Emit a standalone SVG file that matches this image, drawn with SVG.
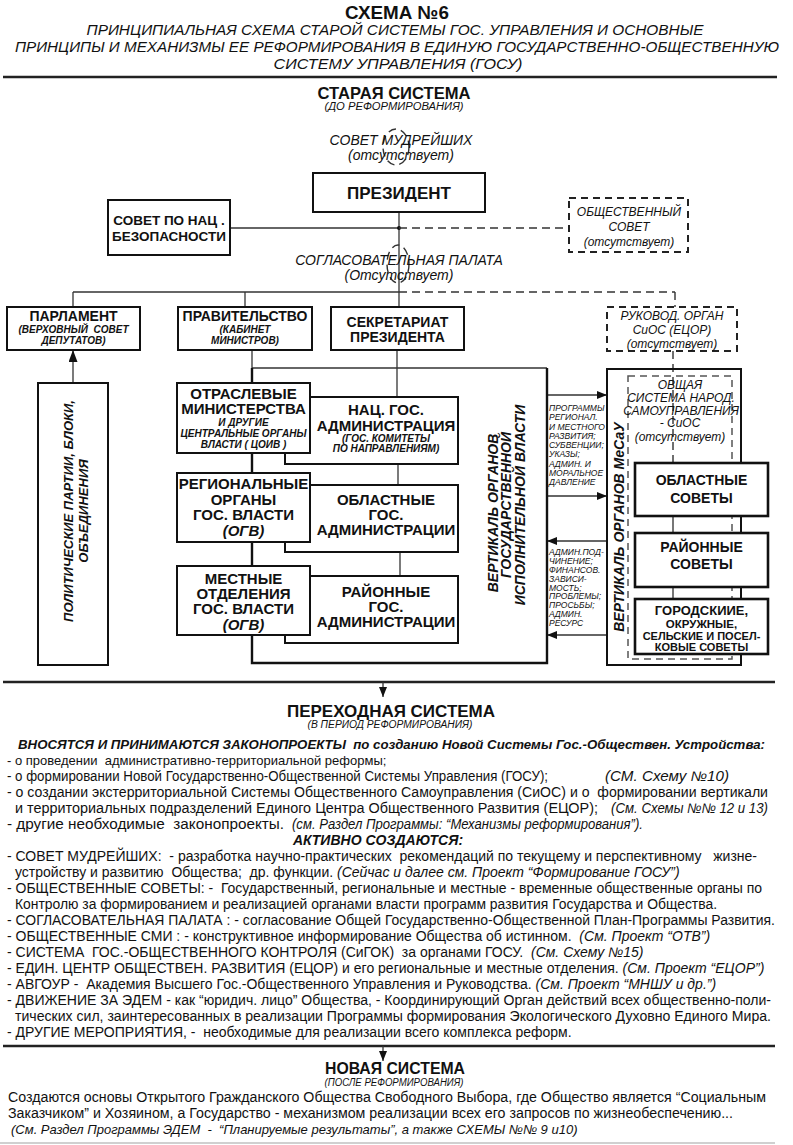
<svg xmlns="http://www.w3.org/2000/svg" width="793" height="1145" viewBox="0 0 793 1145">
<defs>
<style>
text{font-family:"Liberation Sans",Arial,sans-serif;fill:#111;white-space:pre}
.b{font-weight:bold}
.i{font-style:italic}
.bi{font-weight:bold;font-style:italic}
.m{text-anchor:middle}
.box{fill:#fff;stroke:#111;stroke-width:2}
.tbox{fill:#fff;stroke:#111;stroke-width:2.6}
.dbox{fill:#fff;stroke:#222;stroke-width:2;stroke-dasharray:7 5}
.ln{stroke:#333;stroke-width:1.3;fill:none}
.tk{stroke:#111;stroke-width:2.4;fill:none}
.dl{stroke:#333;stroke-width:1.4;fill:none;stroke-dasharray:8 5}
.rule{stroke:#222;stroke-width:2.6}
.h1{font-size:19px;font-weight:bold}
.h2{font-size:16.5px;font-weight:bold}
.sub{font-size:15px;font-style:italic}
.cap{font-size:10px;font-style:italic}
.n14{font-size:14px;font-weight:bold}
.s10{font-size:10px;font-weight:bold;font-style:italic}
.it12{font-size:12px;font-style:italic}
.it14{font-size:14px;font-style:italic}
.sm{font-size:8.5px;font-style:italic}
.tx{font-size:14px}
.txi{font-size:14px;font-style:italic}
.txbi{font-size:14px;font-weight:bold;font-style:italic}
</style>
<marker id="ah" viewBox="0 0 10 8" refX="10" refY="4" markerWidth="10" markerHeight="8" markerUnits="userSpaceOnUse" orient="auto"><path d="M0,0 L10,4 L0,8z" fill="#111"/></marker>
<marker id="ahs" viewBox="0 0 12 9" refX="12" refY="4.5" markerWidth="12" markerHeight="9" markerUnits="userSpaceOnUse" orient="auto"><path d="M0,0 L12,4.5 L0,9z" fill="#111"/></marker>
</defs>
<rect width="793" height="1145" fill="#fff"/>

<g id="header">
<text class="h1 m" x="397" y="19" textLength="104" lengthAdjust="spacingAndGlyphs">СХЕМА №6</text>
<text class="sub m" x="395" y="35" textLength="617" lengthAdjust="spacingAndGlyphs">ПРИНЦИПИАЛЬНАЯ СХЕМА СТАРОЙ СИСТЕМЫ ГОС. УПРАВЛЕНИЯ И ОСНОВНЫЕ</text>
<text class="sub m" x="397" y="52" textLength="764" lengthAdjust="spacingAndGlyphs">ПРИНЦИПЫ И МЕХАНИЗМЫ ЕЕ РЕФОРМИРОВАНИЯ В ЕДИНУЮ ГОСУДАРСТВЕННО-ОБЩЕСТВЕННУЮ</text>
<text class="sub m" x="398" y="69" textLength="249" lengthAdjust="spacingAndGlyphs">СИСТЕМУ УПРАВЛЕНИЯ (ГОСУ)</text>
<line class="rule" x1="3" y1="77" x2="777" y2="77"/>
<text class="h2 m" x="394" y="99" textLength="153" lengthAdjust="spacingAndGlyphs">СТАРАЯ СИСТЕМА</text>
<text class="cap m" x="394" y="110" textLength="139" lengthAdjust="spacingAndGlyphs">(ДО РЕФОРМИРОВАНИЯ)</text>
</g>

<g id="connectors">
<ellipse cx="396" cy="147" rx="13" ry="18" class="dl" stroke-dasharray="6 5"/>
<ellipse cx="398" cy="264" rx="11" ry="19" class="dl" stroke-dasharray="6 5"/>
<line class="ln" x1="399" y1="212" x2="399" y2="292"/>
<line class="ln" x1="230" y1="228" x2="399" y2="228"/>
<circle cx="399" cy="228" r="2" fill="#111"/>
<line class="dl" x1="399" y1="228" x2="569" y2="228"/>
<line class="ln" x1="73" y1="292" x2="399" y2="292"/>
<line class="dl" x1="399" y1="292" x2="675" y2="292"/>
<line class="ln" x1="73" y1="292" x2="73" y2="307"/>
<line class="ln" x1="245" y1="292" x2="245" y2="307"/>
<line class="ln" x1="399" y1="292" x2="399" y2="307"/>
<line class="dl" x1="675" y1="292" x2="675" y2="307"/>
<line class="dl" x1="673" y1="351" x2="673" y2="463"/>
<line class="ln" x1="73" y1="383" x2="73" y2="350" marker-end="url(#ahs)"/>
<line class="ln" x1="252" y1="350" x2="252" y2="368"/>
<line class="ln" x1="252" y1="368" x2="547" y2="368"/>
<line class="ln" x1="397" y1="350" x2="397" y2="397"/>
<line class="ln" x1="398" y1="464" x2="398" y2="485"/>
<line class="ln" x1="400" y1="552" x2="400" y2="576"/>
<line class="ln" x1="547" y1="395" x2="607" y2="395" marker-end="url(#ah)"/>
<line class="ln" x1="547" y1="496" x2="607" y2="496" marker-end="url(#ah)"/>
<line class="ln" x1="607" y1="541" x2="547" y2="541" marker-end="url(#ah)"/>
<line class="ln" x1="607" y1="635" x2="547" y2="635" marker-end="url(#ah)"/>
<line stroke="#555" stroke-width="1.6" x1="673" y1="516" x2="673" y2="533"/>
<line stroke="#555" stroke-width="1.6" x1="673" y1="587" x2="673" y2="599"/>
<line class="rule" x1="3" y1="682" x2="775" y2="682"/>
<line class="ln" x1="383" y1="682" x2="383" y2="697" marker-end="url(#ah)"/>
<line class="rule" x1="3" y1="1046" x2="775" y2="1046"/>
<line class="ln" x1="383" y1="1046" x2="383" y2="1061" marker-end="url(#ah)"/>
<line stroke="#d0d0d0" stroke-width="2" x1="0" y1="1143" x2="775" y2="1143"/>
</g>

<g id="sovet-mudr">
<text class="it14 m" x="401" y="145">СОВЕТ МУДРЕЙШИХ</text>
<text class="it14 m" x="401" y="160">(отсутствует)</text>
</g>

<g id="president">
<rect class="box" x="313" y="173" width="172" height="39"/>
<text class="m" x="399" y="199" font-size="17" font-weight="bold">ПРЕЗИДЕНТ</text>
</g>

<g id="sovet-nac">
<rect class="box" x="108" y="200" width="122" height="55"/>
<text class="m b" x="169" y="225" font-size="13.5">СОВЕТ ПО НАЦ .</text>
<text class="m b" x="169" y="241" font-size="13.5">БЕЗОПАСНОСТИ</text>
</g>

<g id="obsch-sovet">
<rect class="dbox" x="569" y="198" width="119" height="54"/>
<text class="it12 m" x="629" y="216">ОБЩЕСТВЕННЫЙ</text>
<text class="it12 m" x="629" y="231">СОВЕТ</text>
<text class="it12 m" x="629" y="246">(отсутствует)</text>
</g>

<g id="soglas">
<text class="it14 m" x="399" y="265">СОГЛАСОВАТЕЛЬНАЯ ПАЛАТА</text>
<text class="it14 m" x="399" y="280">(Отсутствует)</text>
</g>

<g id="parlament">
<rect class="box" x="7" y="307" width="133" height="43"/>
<text class="n14 m" x="73.5" y="321">ПАРЛАМЕНТ</text>
<text class="s10 m" x="73.5" y="333">(ВЕРХОВНЫЙ  СОВЕТ</text>
<text class="s10 m" x="73.5" y="344">ДЕПУТАТОВ)</text>
</g>

<g id="pravitelstvo">
<rect class="box" x="178" y="307" width="134" height="43"/>
<text class="n14 m" x="245" y="321">ПРАВИТЕЛЬСТВО</text>
<text class="s10 m" x="245" y="333">(КАБИНЕТ</text>
<text class="s10 m" x="245" y="344">МИНИСТРОВ)</text>
</g>

<g id="sekretariat">
<rect class="box" x="331" y="307" width="133" height="43"/>
<text class="n14 m" x="397.5" y="327">СЕКРЕТАРИАТ</text>
<text class="n14 m" x="397.5" y="342">ПРЕЗИДЕНТА</text>
</g>

<g id="rukovod">
<rect class="dbox" x="607" y="307" width="130" height="44"/>
<text class="it12 m" x="672" y="320">РУКОВОД. ОРГАН</text>
<text class="it12 m" x="672" y="334">СиОС (ЕЦОР)</text>
<text class="it12 m" x="672" y="348">(отсутствует)</text>
</g>

<g id="politicheskie">
<rect class="box" x="38" y="383" width="70" height="282"/>
<text class="m" font-size="13" font-weight="bold" font-style="italic" transform="translate(73,511) rotate(-90)">ПОЛИТИЧЕСКИЕ ПАРТИИ, БЛОКИ,</text>
<text class="m" font-size="13" font-weight="bold" font-style="italic" transform="translate(88,511) rotate(-90)">ОБЪЕДИНЕНИЯ</text>
</g>

<g id="vertikal-gov">
<path class="tk" d="M252,368 V663 H547 V368"/>
<text class="m" font-size="14" font-weight="bold" font-style="italic" transform="translate(498,513) rotate(-90)">ВЕРТИКАЛЬ ОРГАНОВ</text>
<text class="m" font-size="14" font-weight="bold" font-style="italic" transform="translate(511,505) rotate(-90)">ГОСУДАРСТВЕННОЙ</text>
<text class="m" font-size="14" font-weight="bold" font-style="italic" transform="translate(525,505) rotate(-90)">ИСПОЛНИТЕЛЬНОЙ ВЛАСТИ</text>
</g>

<g id="nac-adm">
<rect class="box" x="285" y="397" width="173" height="67"/>
<text class="m b" x="386" y="415" font-size="15">НАЦ. ГОС.</text>
<text class="m b" x="386" y="431" font-size="15">АДМИНИСТРАЦИЯ</text>
<text class="s10 m" x="386" y="442">(ГОС. КОМИТЕТЫ</text>
<text class="s10 m" x="386" y="452">ПО НАПРАВЛЕНИЯМ)</text>
</g>

<g id="oblast-adm">
<rect class="box" x="285" y="485" width="173" height="67"/>
<text class="m b" x="386" y="505" font-size="15">ОБЛАСТНЫЕ</text>
<text class="m b" x="386" y="520" font-size="15">ГОС.</text>
<text class="m b" x="386" y="535" font-size="15">АДМИНИСТРАЦИИ</text>
</g>

<g id="rayon-adm">
<rect class="box" x="285" y="576" width="173" height="67"/>
<text class="m b" x="386" y="597" font-size="15">РАЙОННЫЕ</text>
<text class="m b" x="386" y="612" font-size="15">ГОС.</text>
<text class="m b" x="386" y="627" font-size="15">АДМИНИСТРАЦИИ</text>
</g>

<g id="otrasl">
<rect class="box" x="177" y="383" width="133" height="70" stroke-width="2.4"/>
<text class="m b" x="243.5" y="399" font-size="15">ОТРАСЛЕВЫЕ</text>
<text class="m b" x="243.5" y="414" font-size="15">МИНИСТЕРСТВА</text>
<text class="s10 m" x="243.5" y="426">И ДРУГИЕ</text>
<text class="s10 m" x="243.5" y="437">ЦЕНТРАЛЬНЫЕ ОРГАНЫ</text>
<text class="s10 m" x="243.5" y="448">ВЛАСТИ ( ЦОИВ )</text>
</g>

<g id="region">
<rect class="box" x="177" y="473" width="133" height="69" stroke-width="2.4"/>
<text class="m b" x="243.5" y="489" font-size="15">РЕГИОНАЛЬНЫЕ</text>
<text class="m b" x="243.5" y="504.5" font-size="15">ОРГАНЫ</text>
<text class="m b" x="243.5" y="520" font-size="15">ГОС. ВЛАСТИ</text>
<text class="m bi" x="243.5" y="535.5" font-size="15">(ОГВ)</text>
</g>

<g id="mestn">
<rect class="box" x="177" y="566" width="133" height="69" stroke-width="2.4"/>
<text class="m b" x="243.5" y="584" font-size="15">МЕСТНЫЕ</text>
<text class="m b" x="243.5" y="599" font-size="15">ОТДЕЛЕНИЯ</text>
<text class="m b" x="243.5" y="614" font-size="15">ГОС. ВЛАСТИ</text>
<text class="m bi" x="243.5" y="630" font-size="15">(ОГВ)</text>
</g>

<g id="label-down">
<text class="sm" x="549" y="411">ПРОГРАММЫ</text>
<text class="sm" x="549" y="420.2">РЕГИОНАЛ.</text>
<text class="sm" x="549" y="429.5">И МЕСТНОГО</text>
<text class="sm" x="549" y="438.7">РАЗВИТИЯ;</text>
<text class="sm" x="549" y="448">СУБВЕНЦИИ;</text>
<text class="sm" x="549" y="457.2">УКАЗЫ;</text>
<text class="sm" x="549" y="466.5">АДМИН. И</text>
<text class="sm" x="549" y="475.7">МОРАЛЬНОЕ</text>
<text class="sm" x="549" y="485">ДАВЛЕНИЕ</text>
</g>

<g id="label-up">
<text class="sm" x="549" y="555">АДМИН.ПОД-</text>
<text class="sm" x="549" y="563.9">ЧИНЕНИЕ;</text>
<text class="sm" x="549" y="572.8">ФИНАНСОВ.</text>
<text class="sm" x="549" y="581.6">ЗАВИСИ-</text>
<text class="sm" x="549" y="590.5">МОСТЬ;</text>
<text class="sm" x="549" y="599.4">ПРОБЛЕМЫ;</text>
<text class="sm" x="549" y="608.2">ПРОСЬБЫ;</text>
<text class="sm" x="549" y="617.1">АДМИН.</text>
<text class="sm" x="549" y="626">РЕСУРС</text>
</g>

<g id="vertikal-mesau">
<rect x="607" y="369" width="134" height="296" fill="none" stroke="#111" stroke-width="2"/>
<rect x="628" y="376" width="104" height="283" fill="none" stroke="#555" stroke-width="1.5" stroke-dasharray="7 5"/>
<text class="m" font-size="14" font-weight="bold" font-style="italic" transform="translate(624,527) rotate(-90)">ВЕРТИКАЛЬ ОРГАНОВ МеСаУ</text>
</g>

<g id="obschaya-sios">
<text class="it12 m" x="680" y="389">ОВЩАЯ</text>
<text class="it12 m" x="681" y="402">СИСТЕМА НАРОД.</text>
<text class="it12 m" x="681" y="415">САМОУПРАВЛЕНИЯ</text>
<text class="it12 m" x="680" y="427">- СиОС</text>
<text class="it12 m" x="680" y="441">(отсутствует)</text>
</g>

<g id="oblast-sov">
<rect class="tbox" x="635" y="463" width="133" height="53"/>
<text class="n14 m" x="701.5" y="485">ОБЛАСТНЫЕ</text>
<text class="n14 m" x="701.5" y="503">СОВЕТЫ</text>
</g>

<g id="rayon-sov">
<rect class="tbox" x="635" y="533" width="133" height="54"/>
<text class="n14 m" x="701.5" y="552">РАЙОННЫЕ</text>
<text class="n14 m" x="701.5" y="569">СОВЕТЫ</text>
</g>

<g id="gorod-sov">
<rect class="tbox" x="635" y="599" width="133" height="55"/>
<text class="m b" x="701.5" y="615" font-size="13">ГОРОДСКИИЕ,</text>
<text class="m b" x="701.5" y="628" font-size="11.5">ОКРУЖНЫЕ,</text>
<text class="m b" x="701.5" y="640" font-size="11">СЕЛЬСКИЕ И ПОСЕЛ-</text>
<text class="m b" x="701.5" y="651" font-size="11">КОВЫЕ СОВЕТЫ</text>
</g>

<g id="transition">
<text class="h2 m" x="391" y="717" textLength="208" lengthAdjust="spacingAndGlyphs">ПЕРЕХОДНАЯ СИСТЕМА</text>
<text class="cap m" x="390" y="728" textLength="165" lengthAdjust="spacingAndGlyphs">(В ПЕРИОД РЕФОРМИРОВАНИЯ)</text>
<text class="txbi" x="18" y="749" font-size="13.2" textLength="747" lengthAdjust="spacingAndGlyphs" style="font-size:13.2px">ВНОСЯТСЯ И ПРИНИМАЮТСЯ ЗАКОНОПРОЕКТЫ  по созданию Новой Системы Гос.-Обществен. Устройства:</text>
<text class="tx" x="7" y="765" style="font-size:13px">- о проведении  административно-территориальной реформы;</text>
<text class="tx" x="7" y="781" textLength="541" lengthAdjust="spacingAndGlyphs">- о формировании Новой Государственно-Общественной Системы Управления (ГОСУ);</text>
<text class="txi" x="605" y="781" textLength="124" lengthAdjust="spacingAndGlyphs">(СМ. Схему №10)</text>
<text class="tx" x="7" y="797" textLength="761" lengthAdjust="spacingAndGlyphs">- о создании экстерриториальной Системы Общественного Самоуправления (СиОС) и о  формировании вертикали</text>
<text class="tx" x="15" y="813" textLength="583" lengthAdjust="spacingAndGlyphs">и территориальных подразделений Единого Центра Общественного Развития (ЕЦОР);</text>
<text class="txi" x="611" y="813" textLength="157" lengthAdjust="spacingAndGlyphs">(См. Схемы №№ 12 и 13)</text>
<text class="tx" x="7" y="829" textLength="277" lengthAdjust="spacingAndGlyphs">- другие необходимые  законопроекты.</text>
<text class="txi" x="292" y="829" textLength="351" lengthAdjust="spacingAndGlyphs">(см. Раздел Программы: “Механизмы реформирования”).</text>
<text class="txbi m" x="378" y="845">АКТИВНО СОЗДАЮТСЯ:</text>
<text class="tx" x="7" y="861" textLength="750" lengthAdjust="spacingAndGlyphs">- СОВЕТ МУДРЕЙШИХ:  - разработка научно-практических  рекомендаций по текущему и перспективному   жизне-</text>
<text class="tx" x="15" y="877">устройству и развитию  Общества;  др. функции. <tspan class="i">(Сейчас и далее см. Проект “Формирование ГОСУ”)</tspan></text>
<text class="tx" x="7" y="893" textLength="755" lengthAdjust="spacingAndGlyphs">- ОБЩЕСТВЕННЫЕ СОВЕТЫ: -  Государственный, региональные и местные - временные общественные органы по</text>
<text class="tx" x="15" y="909" textLength="702" lengthAdjust="spacingAndGlyphs">Контролю за формированием и реализацией органами власти программ развития Государства и Общества.</text>
<text class="tx" x="7" y="925" textLength="768" lengthAdjust="spacingAndGlyphs">- СОГЛАСОВАТЕЛЬНАЯ ПАЛАТА : - согласование Общей Государственно-Общественной План-Программы Развития.</text>
<text class="tx" x="7" y="941">- ОБЩЕСТВЕННЫЕ СМИ : - конструктивное информирование Общества об истинном.  <tspan class="i">(См. Проект “ОТВ”)</tspan></text>
<text class="tx" x="7" y="957">- СИСТЕМА  ГОС.-ОБЩЕСТВЕННОГО КОНТРОЛЯ (СиГОК)  за органами ГОСУ.  <tspan class="i">(См. Схему №15)</tspan></text>
<text class="tx" x="7" y="973">- ЕДИН. ЦЕНТР ОБЩЕСТВЕН. РАЗВИТИЯ (ЕЦОР) и его региональные и местные отделения. <tspan class="i">(См. Проект “ЕЦОР”)</tspan></text>
<text class="tx" x="7" y="989">- АВГОУР -  Академия Высшего Гос.-Общественного Управления и Руководства. <tspan class="i">(См. Проект “МНШУ и др.”)</tspan></text>
<text class="tx" x="7" y="1005" textLength="764" lengthAdjust="spacingAndGlyphs">- ДВИЖЕНИЕ ЗА ЭДЕМ - как “юридич. лицо” Общества, - Координирующий Орган действий всех общественно-поли-</text>
<text class="tx" x="15" y="1021" textLength="756" lengthAdjust="spacingAndGlyphs">тических сил, заинтересованных в реализации Программы формирования Экологического Духовно Единого Мира.</text>
<text class="tx" x="7" y="1037">- ДРУГИЕ МЕРОПРИЯТИЯ, -  необходимые для реализации всего комплекса реформ.</text>
</g>

<g id="new-system">
<text class="h2 m" x="395" y="1074" textLength="140" lengthAdjust="spacingAndGlyphs">НОВАЯ СИСТЕМА</text>
<text class="cap m" x="394" y="1086" textLength="139" lengthAdjust="spacingAndGlyphs">(ПОСЛЕ РЕФОРМИРОВАНИЯ)</text>
<text class="tx" x="8" y="1102" textLength="758" lengthAdjust="spacingAndGlyphs">Создаются основы Открытого Гражданского Общества Свободного Выбора, где Общество является “Социальным</text>
<text class="tx" x="8" y="1118" textLength="725" lengthAdjust="spacingAndGlyphs">Заказчиком” и Хозяином, а Государство - механизмом реализации всех его запросов по жизнеобеспечению...</text>
<text class="txi" x="11" y="1134" style="font-size:13px">(См. Раздел Программы ЭДЕМ  -  “Планируемые результаты”, а также СХЕМЫ №№ 9 и10)</text>
</g>
</svg>
